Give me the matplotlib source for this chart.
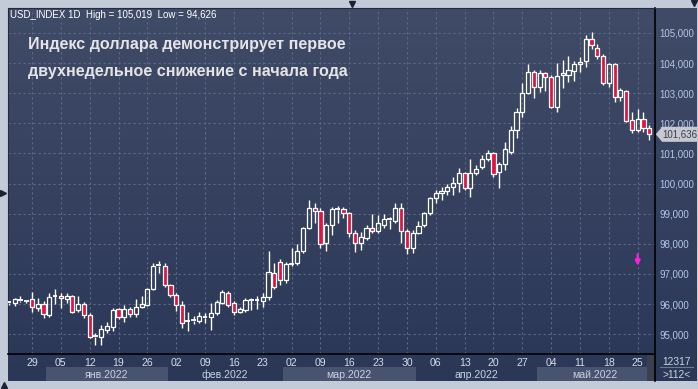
import numpy as np
import pandas as pd
import matplotlib.pyplot as plt
from matplotlib.colors import LinearSegmentedColormap
from matplotlib.patches import Polygon, Rectangle
from matplotlib.transforms import blended_transform_factory

# --------------------------
# Data (USD_INDEX, daily, 23.12.2021 - 27.05.2022)
# --------------------------
dates = pd.bdate_range("2021-12-23", "2022-05-27")

opens = [96.05, 96.03, 96.10, 96.09, 96.16, 95.87, 95.99, 95.62, 96.25, 96.27,
         96.16, 96.27, 95.79, 95.99, 95.63, 94.90, 94.91, 95.13, 95.24, 95.83,
         95.56, 95.85, 95.66, 95.91, 95.96, 96.49, 97.26, 97.26, 96.63, 96.30,
         95.96, 95.42, 95.43, 95.44, 95.55, 95.56, 95.69, 96.04, 96.37, 96.02,
         95.74, 95.80, 96.12, 96.12, 96.10, 96.22, 97.04, 97.40, 96.79, 97.32,
         97.35, 97.76, 98.54, 99.18, 99.10, 98.01, 98.62, 99.13, 99.14, 99.01,
         98.37, 98.03, 98.20, 98.51, 98.43, 98.62, 98.80, 98.77, 99.18, 98.43,
         97.85, 98.37, 98.62, 99.01, 99.51, 99.67, 99.76, 99.87, 100.01, 100.34,
         99.84, 100.34, 100.56, 100.81, 101.00, 100.37, 100.64, 101.06, 101.78, 102.39,
         103.00, 103.69, 103.22, 103.66, 103.55, 102.55, 103.60, 103.60, 103.74, 103.96,
         104.07, 104.80, 104.51, 104.25, 103.33, 103.96, 102.88, 103.07, 102.11, 101.78,
         102.14, 101.83]
highs = [96.10, 96.21, 96.25, 96.13, 96.39, 96.21, 96.10, 96.35, 96.49, 96.37,
         96.37, 96.31, 96.27, 96.08, 95.71, 95.05, 95.29, 95.40, 95.86, 95.88,
         95.96, 95.90, 96.15, 96.25, 96.52, 97.35, 97.44, 97.35, 96.67, 96.35,
         96.10, 95.74, 95.60, 95.74, 95.70, 96.02, 96.12, 96.46, 96.42, 96.10,
         95.90, 96.19, 96.19, 96.27, 96.36, 97.76, 97.35, 97.48, 97.40, 97.85,
         97.98, 98.56, 99.45, 99.34, 99.18, 98.70, 99.23, 99.25, 99.23, 99.07,
         98.46, 98.40, 98.62, 98.99, 98.96, 98.99, 98.90, 99.36, 99.34, 98.48,
         98.45, 98.77, 99.07, 99.56, 99.80, 99.88, 100.00, 100.23, 100.52, 100.40,
         100.80, 100.60, 100.95, 101.10, 101.06, 100.70, 101.39, 101.92, 102.50, 103.33,
         103.96, 103.77, 103.77, 103.72, 103.62, 103.99, 104.10, 104.25, 104.08, 104.19,
         104.93, 105.019, 104.65, 104.30, 104.00, 103.99, 103.16, 103.11, 102.37, 102.48,
         102.37, 101.94]
lows = [95.98, 95.94, 96.06, 96.05, 95.74, 95.76, 95.55, 95.57, 96.00, 95.86,
        96.02, 95.69, 95.72, 95.55, 94.86, 94.626, 94.65, 95.05, 95.12, 95.50,
        95.41, 95.56, 95.58, 95.86, 95.93, 96.45, 97.04, 96.55, 96.23, 95.77,
        95.19, 95.11, 95.32, 95.38, 95.37, 95.13, 95.64, 96.00, 95.91, 95.65,
        95.70, 95.75, 95.80, 95.85, 95.91, 96.13, 96.50, 96.63, 96.70, 97.26,
        97.28, 97.70, 98.50, 98.70, 97.85, 97.75, 98.30, 98.68, 98.84, 98.24,
        97.74, 97.80, 98.12, 98.35, 98.37, 98.52, 98.50, 98.68, 98.03, 97.66,
        97.68, 98.33, 98.55, 98.96, 99.34, 99.45, 99.62, 99.62, 99.73, 99.80,
        99.56, 100.30, 100.50, 100.75, 100.23, 99.84, 100.45, 100.97, 101.50, 102.22,
        102.96, 102.83, 103.05, 103.06, 102.50, 102.37, 103.18, 103.38, 103.40, 103.70,
        103.88, 104.47, 104.13, 103.27, 103.22, 102.70, 102.75, 102.03, 101.67, 101.70,
        101.72, 101.44]
closes = [96.06, 96.16, 96.12, 96.10, 95.89, 95.99, 95.66, 96.22, 96.28, 96.19,
          96.27, 95.72, 95.99, 95.63, 94.91, 94.94, 95.17, 95.28, 95.80, 95.58,
          95.85, 95.66, 95.91, 96.00, 96.49, 97.26, 97.30, 96.63, 96.30, 95.96,
          95.38, 95.45, 95.46, 95.60, 95.57, 95.69, 96.07, 96.41, 95.96, 95.74,
          95.83, 96.13, 96.14, 96.14, 96.24, 97.07, 96.57, 96.79, 97.33, 97.34,
          97.76, 98.51, 99.18, 99.09, 97.99, 98.62, 99.14, 99.15, 99.01, 98.37,
          98.03, 98.23, 98.51, 98.43, 98.68, 98.81, 98.82, 99.18, 98.43, 97.85,
          98.37, 98.59, 99.01, 99.51, 99.67, 99.76, 99.87, 100.03, 100.34, 99.86,
          100.34, 100.50, 100.81, 101.00, 100.31, 100.64, 101.14, 101.78, 102.37, 103.00,
          103.69, 103.20, 103.66, 103.55, 102.55, 103.58, 103.66, 103.77, 103.96, 104.05,
          104.80, 104.60, 104.25, 103.33, 103.96, 102.88, 103.11, 102.08, 101.78, 102.14,
          101.85, 101.636]

price_ticks = [95, 96, 97, 98, 99, 100, 101, 102, 103, 104, 105]
month_names = ["янв.2022", "фев.2022", "мар.2022", "апр.2022", "май.2022"]
shaded_months = [1, 3, 5]
last_price = 101.636
signal_day = "2022-05-25"
signal_from, signal_to = 97.65, 97.27

title = "Индекс доллара демонстрирует первое\nдвухнедельное снижение с начала года"
header = "USD_INDEX 1D  High = 105,019  Low = 94,626"

# --------------------------
# Layout helpers (pixel boxes)
# --------------------------
W, H = 698, 389


def box(x0, y0, x1, y1):
    return [x0 / W, 1 - y1 / H, (x1 - x0) / W, (y1 - y0) / H]


def fmt(v):
    return f"{v:.3f}".replace(".", ",")


plt.rcParams['font.family'] = ['Liberation Sans', 'DejaVu Sans']

fig = plt.figure(figsize=(W / 100, H / 100), dpi=100, facecolor='#c3cbd8')

# gradient background of the chart panel
bg = fig.add_axes(box(8, 8, 697, 381))
cmap = LinearSegmentedColormap.from_list('panel', ['#2b3757', '#404b67'])
bg.imshow(np.linspace(0, 1, 256).reshape(-1, 1), cmap=cmap, origin='lower',
          aspect='auto', extent=[0, 1, 0, 1])
bg.axis('off')

# --------------------------
# Main candle chart
# --------------------------
ax = fig.add_axes(box(8, 8, 655, 354))
ax.set_facecolor('none')
x = np.arange(len(dates))
o, h, l, c = (np.array(a) for a in (opens, highs, lows, closes))
top = np.maximum(o, c)
bot = np.minimum(o, c)
body = top - bot
doji = body < 0.04
up = c >= o

ax.vlines(x, top, h, color='white', lw=1.0, zorder=3)
ax.vlines(x, l, bot, color='white', lw=1.0, zorder=3)
faces = np.where(up, 'none', '#e3123e')
ax.bar(x[~doji], body[~doji], bottom=bot[~doji], width=0.72,
       color=list(faces[~doji]), edgecolor='white', linewidth=0.9, zorder=4)
ax.hlines(c[doji], x[doji] - 0.42, x[doji] + 0.42, color='white', lw=1.3, zorder=4)

ax.set_xlim(-0.16, 112.0)
ax.set_ylim(94.34, 105.83)

wed = [i for i, d in enumerate(dates) if d.weekday() == 2]
ax.set_xticks(wed)
ax.set_xticklabels([dates[i].strftime('%d') for i in wed])
ax.set_yticks(price_ticks)
ax.set_yticklabels([fmt(v) for v in price_ticks])
ax.yaxis.tick_right()
ax.tick_params(axis='y', length=0, pad=3, labelsize=7.0, labelcolor='#b3c6e4')
ax.tick_params(axis='x', length=0, pad=3, labelsize=7.6, labelcolor='#d3dae8')
ax.grid(True, color='#5d6988', linestyle=(0, (2, 2.5)), linewidth=0.8)
ax.set_axisbelow(True)
for side in ('right', 'bottom'):
    ax.spines[side].set_color('black')
    ax.spines[side].set_linewidth(1.2)
for side in ('top', 'left'):
    ax.spines[side].set_color('#232b40')
    ax.spines[side].set_linewidth(0.8)

# last price tag
tr = blended_transform_factory(ax.transAxes, ax.transData)
tag = Polygon([(1.0012, last_price), (1.011, last_price + 0.25), (1.066, last_price + 0.25),
               (1.066, last_price - 0.25), (1.011, last_price - 0.25)],
              closed=True, transform=tr, clip_on=False, facecolor='#c6c9cf',
              edgecolor='none', zorder=6)
ax.add_patch(tag)
ax.text(1.038, last_price, fmt(last_price), transform=tr, ha='center', va='center',
        fontsize=7.0, color='#3a3f4a', zorder=7, clip_on=False)

# magenta signal arrow
si = dates.get_loc(pd.Timestamp(signal_day))
ax.annotate('', xy=(si, signal_to), xytext=(si, signal_from),
            arrowprops=dict(arrowstyle='-|>', color='#ff1ee0', lw=1.6,
                            mutation_scale=7, shrinkA=0, shrinkB=0), zorder=5)

# --------------------------
# Month band
# --------------------------
mb = fig.add_axes(box(8, 367, 655, 381))
mb.set_xlim(ax.get_xlim())
mb.set_ylim(0, 1)
mb.axis('off')
for k, name in enumerate(month_names, start=1):
    idx = [i for i, d in enumerate(dates) if d.month == k and d.year == 2022]
    a, b = idx[0] - 0.5, idx[-1] + 0.5
    if k in shaded_months:
        mb.axvspan(a, b, color='#48536f', lw=0)
    mb.text((a + b) / 2, 0.45, name, ha='center', va='center',
            fontsize=7.6, color='#c9d2e2')

# --------------------------
# Overlay: texts and frame details
# --------------------------
ov = fig.add_axes([0, 0, 1, 1])
ov.set_xlim(0, W)
ov.set_ylim(H, 0)
ov.axis('off')
ov.set_facecolor('none')
ov.add_patch(Rectangle((647, 355), 8, 26, facecolor='#3a404d', edgecolor='none'))
ov.plot([655, 655], [354, 381], color='black', lw=1.2)
ov.plot([660, 693], [367, 367], color='#6f7a90', lw=0.8)
ov.text(677, 362, "12317", ha='center', va='center', fontsize=7.4, color='#c9d2e2')
ov.text(677, 375.5, ">112<", ha='center', va='center', fontsize=7.4, color='#c9d2e2')
ov.text(10, 15, header, ha='left', va='center', fontsize=7.0, color='white')
ov.text(28, 58, title, ha='left', va='center', fontsize=11.6, fontweight='bold',
        color='#e4e4e6', linespacing=2.05)
# small frame arrows
ov.plot([352], [3.5], marker='v', color='#1c2233', markersize=5)
ov.plot([3], [193], marker='>', color='#1c2233', markersize=5)
ov.plot([4], [385], marker='^', color='#1c2233', markersize=5)
ov.plot([694], [3], marker='v', color='#1c2233', markersize=4)

fig.savefig('out.png', dpi=100, facecolor=fig.get_facecolor())
